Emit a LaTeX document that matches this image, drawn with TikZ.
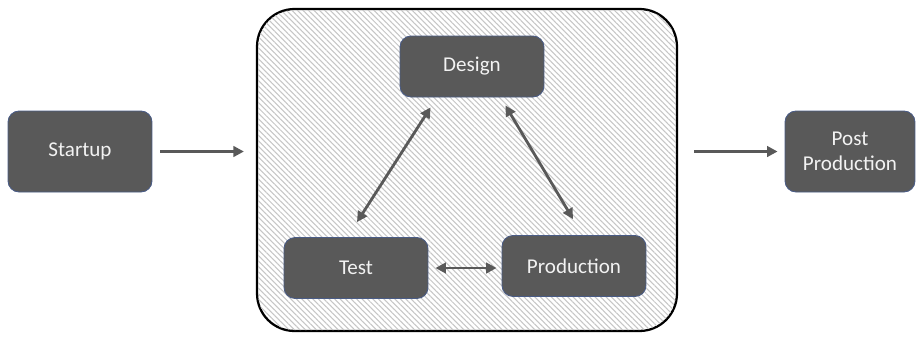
\documentclass[tikz,border=0pt]{standalone}
\usepackage{fontspec}
\setmainfont{Carlito}
\usetikzlibrary{calc,patterns.meta,arrows.meta}

\definecolor{boxgray}{HTML}{595959}
\definecolor{boxedge}{HTML}{4A5C86}
\definecolor{arrowgray}{HTML}{595959}

\begin{document}
\begin{tikzpicture}[x=0.02cm, y=-0.02cm,
    stage/.style={rectangle, rounded corners=0.22cm, fill=boxgray, draw=boxedge,
      line width=0.5pt, text=white!95!black, align=center,
      font=\fontsize{12}{14.5}\selectfont, minimum width=2.88cm, minimum height=1.22cm},
    flow/.style={draw=arrowgray, line width=1.6pt, -{Triangle[length=6pt,width=6pt]}},
    both/.style={draw=arrowgray, line width=1.6pt, {Triangle[length=6pt,width=6pt]}-{Triangle[length=6pt,width=6pt]}}]
  \useasboundingbox (0,0) rectangle (920,336);

  % Hatched loop around the core stages
  \node[rectangle, rounded corners=0.75cm, draw=black, line width=1.3pt,
    fill=white, minimum width=8.4cm, minimum height=6.44cm] (loop) at (467,170) {};
  \fill[pattern={Lines[angle=-45, distance=2.2pt, line width=0.6pt]},
    pattern color=gray!45, rounded corners=0.73cm]
    (258,10) rectangle (676,330);

  % Outer stages
  \node[stage, minimum height=1.62cm] (startup) at (80,151.5) {Startup};
  \node[stage, minimum width=2.6cm, minimum height=1.62cm] (post) at (850,151.5) {Post\\Production};

  % Inner stages
  \node[stage] (design) at (472,66.5) {Design};
  \node[stage] (test) at (356,268) {Test};
  \node[stage] (production) at (574,266) {Production};

  % Into and out of the loop
  \draw[flow, shorten <=0.16cm, shorten >=0.24cm] (startup.east) -- (loop.west |- startup.east);
  \draw[flow, shorten <=0.32cm, shorten >=0.14cm] (loop.east |- post.west) -- (post.west);

  % Links between the inner stages
  \draw[both] ($(design.south west)+(31,10)$) -- ($(test.north)+(1,-15)$);
  \draw[both] ($(design.south east)+(-39,8)$) -- ($(production.north)+(-1,-16)$);
  \draw[both, shorten <=0.14cm, shorten >=0.1cm] (test.east) -- (test.east -| production.west);
\end{tikzpicture}
\end{document}
